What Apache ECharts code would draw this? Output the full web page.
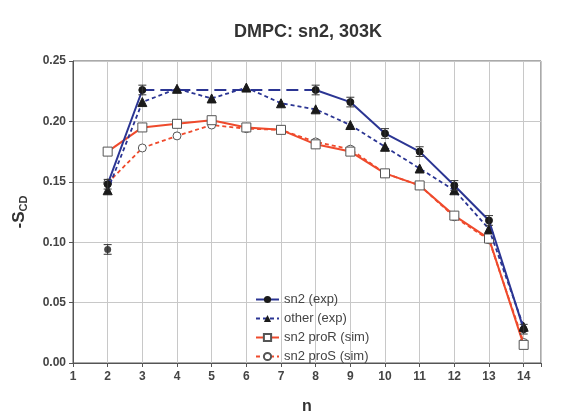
<!DOCTYPE html>
<html>
<head>
<meta charset="utf-8">
<script src="https://cdn.jsdelivr.net/npm/echarts@6/dist/echarts.min.js"></script>
<style>
  html, body { margin: 0; padding: 0; background: #fff; }
  #chart { width: 583px; height: 420px; }
</style>
</head>
<body>
<div id="chart"></div>
<script>
// carbon number n
var nExp = [2, 3, 8, 9, 10, 11, 12, 13, 14];
var sn2Exp = [0.148, 0.226, 0.226, 0.216, 0.190, 0.175, 0.147, 0.118, 0.028];
var sn2ExpErr = [0.004, 0.004, 0.004, 0.004, 0.004, 0.004, 0.004, 0.004, 0.004];
// plateau estimate drawn with long dashes
var plateauN = [3, 8];
var plateauVal = [0.226, 0.226];
// second sn2 C2 value
var extraN = [2];
var extraVal = [0.094];
var extraErr = [0.004];

var nAll = [2, 3, 4, 5, 6, 7, 8, 9, 10, 11, 12, 13, 14];
var otherExp = [0.143, 0.216, 0.227, 0.219, 0.228, 0.215, 0.210, 0.197, 0.179, 0.161, 0.143, 0.111, 0.030];
var proR = [0.175, 0.195, 0.198, 0.201, 0.195, 0.193, 0.181, 0.175, 0.157, 0.147, 0.122, 0.103, 0.015];
var proS = [0.149, 0.178, 0.188, 0.197, 0.194, 0.193, 0.183, 0.177, 0.157, 0.147, 0.121, 0.102, 0.017];

var blue = '#2b3593';
var red = '#ef4a2c';

function pairs(xs, ys) {
  return xs.map(function (x, i) { return [x, ys[i]]; });
}

// solid part of sn2 exp, broken between 3 and 8
var sn2Data = pairs(nExp, sn2Exp);
sn2Data.splice(2, 0, [5.5, '-']);

var errData = nExp.map(function (x, i) { return [x, sn2Exp[i] - sn2ExpErr[i], sn2Exp[i] + sn2ExpErr[i]]; })
  .concat(extraN.map(function (x, i) { return [x, extraVal[i] - extraErr[i], extraVal[i] + extraErr[i]]; }));

var chart = echarts.init(document.getElementById('chart'));
chart.setOption({
  backgroundColor: '#ffffff',
  animation: false,
  title: {
    text: 'DMPC: sn2, 303K',
    left: 303, top: 18, textAlign: 'center',
    textStyle: { fontFamily: 'Liberation Sans', fontSize: 18, fontWeight: 'bold', color: '#333' }
  },
  legend: {
    orient: 'vertical',
    left: 250, top: 288,
    itemWidth: 23, itemHeight: 9, itemGap: 6,
    textStyle: { fontFamily: 'Liberation Sans', fontSize: 13, color: '#444' },
    data: ['sn2 (exp)', 'other (exp)', 'sn2 proR (sim)', 'sn2 proS (sim)']
  },
  grid: { left: 73, right: 42, top: 61, bottom: 47, show: true, borderColor: '#555', borderWidth: 1 },
  xAxis: {
    type: 'value', min: 1, max: 14.5, interval: 1,
    name: 'n', nameLocation: 'middle', nameGap: 36,
    nameTextStyle: { fontFamily: 'Liberation Sans', fontSize: 16, fontWeight: 'bold', color: '#333' },
    axisLine: { lineStyle: { color: '#555' } },
    axisTick: { show: true, inside: false, length: 4, lineStyle: { color: '#555' } },
    axisLabel: {
      fontFamily: 'Liberation Sans', fontSize: 12, fontWeight: 'bold', color: '#444', margin: 8,
      formatter: function (v) { return v > 14 ? '' : v; }
    },
    splitLine: { show: true, lineStyle: { color: '#c8c8c8' } }
  },
  yAxis: {
    type: 'value', min: 0, max: 0.25, interval: 0.05,
    name: '{a|-S}{b|CD}', nameLocation: 'middle', nameGap: 44,
    nameTextStyle: {
      rich: {
        a: { fontFamily: 'Liberation Sans', fontSize: 17, fontWeight: 'bold', color: '#333' },
        b: { fontFamily: 'Liberation Sans', fontSize: 11, fontWeight: 'bold', color: '#333', padding: [8, 0, 0, 0] }
      }
    },
    axisLine: { show: true, lineStyle: { color: '#555' } },
    axisTick: { show: true, inside: false, length: 4, lineStyle: { color: '#555' } },
    axisLabel: {
      fontFamily: 'Liberation Sans', fontSize: 12, fontWeight: 'bold', color: '#444', margin: 7,
      formatter: function (v) { return v.toFixed(2); }
    },
    splitLine: { show: true, lineStyle: { color: '#c8c8c8' } }
  },
  series: [
    {
      name: 'sn2 (exp)', type: 'line', data: sn2Data, z: 5,
      symbol: 'circle', symbolSize: 7,
      lineStyle: { color: blue, width: 2 },
      itemStyle: { color: '#1a1a1a', borderColor: '#1a1a1a' }
    },
    {
      name: 'plateau', type: 'line', data: pairs(plateauN, plateauVal), z: 4,
      symbol: 'none',
      lineStyle: { color: blue, width: 2, type: [12, 6] }
    },
    {
      name: 'other (exp)', type: 'line', data: pairs(nAll, otherExp), z: 4,
      symbol: 'triangle', symbolSize: 9,
      lineStyle: { color: blue, width: 1.8, type: [4, 3] },
      itemStyle: { color: '#1a1a1a', borderColor: '#1a1a1a' }
    },
    {
      name: 'sn2 proR (sim)', type: 'line', data: pairs(nAll, proR), z: 3,
      symbol: 'rect', symbolSize: 9,
      lineStyle: { color: red, width: 2 },
      itemStyle: { color: '#ffffff', borderColor: '#555', borderWidth: 1 }
    },
    {
      name: 'sn2 proS (sim)', type: 'line', data: pairs(nAll, proS), z: 2,
      symbol: 'circle', symbolSize: 8,
      lineStyle: { color: red, width: 1.8, type: [4, 3] },
      itemStyle: { color: '#ffffff', borderColor: '#555', borderWidth: 1 }
    },
    {
      name: 'extra', type: 'scatter', data: pairs(extraN, extraVal), z: 5,
      symbol: 'circle', symbolSize: 7,
      itemStyle: { color: '#1a1a1a' }
    },
    {
      name: 'errors', type: 'custom', data: errData, z: 6,
      renderItem: function (params, api) {
        var x = api.value(0);
        var lo = api.coord([x, api.value(1)]);
        var hi = api.coord([x, api.value(2)]);
        var w = 4;
        var st = { stroke: '#333', lineWidth: 1 };
        return {
          type: 'group',
          children: [
            { type: 'line', shape: { x1: lo[0], y1: lo[1], x2: hi[0], y2: hi[1] }, style: st },
            { type: 'line', shape: { x1: lo[0] - w, y1: lo[1], x2: lo[0] + w, y2: lo[1] }, style: st },
            { type: 'line', shape: { x1: hi[0] - w, y1: hi[1], x2: hi[0] + w, y2: hi[1] }, style: st }
          ]
        };
      }
    }
  ]
});
</script>
</body>
</html>
